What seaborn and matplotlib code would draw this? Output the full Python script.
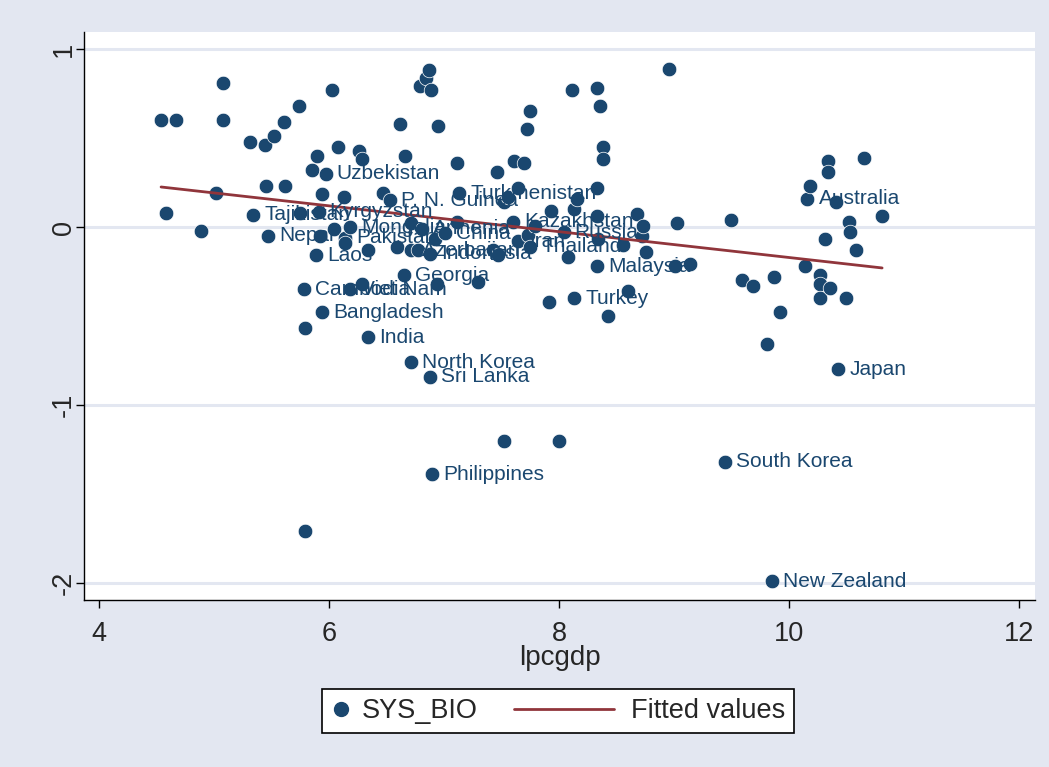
import matplotlib
matplotlib.use('Agg')
import matplotlib.pyplot as plt
from matplotlib.lines import Line2D
from matplotlib.legend_handler import HandlerLine2D
import seaborn as sns
import pandas as pd
import numpy as np

# lpcgdp / SYS_BIO values, country label where one is shown
lpcgdp = [4.54, 4.67, 4.58, 4.89, 5.02, 5.08, 5.08, 5.31, 5.34, 5.44,
          5.45, 5.47, 5.52, 5.61, 5.62, 5.74, 5.75, 5.78, 5.79, 5.79,
          5.85, 5.90, 5.89, 5.91, 5.92, 5.94, 5.94, 5.97, 6.03, 6.04,
          6.08, 6.13, 6.14, 6.14, 6.18, 6.18, 6.26, 6.29, 6.29, 6.34,
          6.34, 6.47, 6.53, 6.59, 6.62, 6.65, 6.66, 6.71, 6.71, 6.71,
          6.77, 6.79, 6.81, 6.84, 6.87, 6.89, 6.88, 6.88, 6.90, 6.92,
          6.94, 6.95, 7.01, 7.11, 7.11, 7.13, 7.30, 7.43, 7.46, 7.47,
          7.52, 7.52, 7.56, 7.60, 7.61, 7.64, 7.64, 7.70, 7.72, 7.73,
          7.75, 7.75, 7.79, 7.91, 7.93, 8.00, 8.04, 8.08, 8.11, 8.13,
          8.13, 8.16, 8.33, 8.33, 8.33, 8.33, 8.34, 8.36, 8.38, 8.38,
          8.43, 8.56, 8.60, 8.68, 8.72, 8.73, 8.76, 8.96, 9.01, 9.03,
          9.14, 9.44, 9.50, 9.59, 9.69, 9.81, 9.85, 9.87, 9.92, 10.14,
          10.16, 10.18, 10.27, 10.27, 10.27, 10.31, 10.34, 10.34, 10.36, 10.41,
          10.43, 10.50, 10.52, 10.53, 10.58, 10.65, 10.81]
sys_bio = [0.60, 0.60, 0.08, -0.02, 0.19, 0.81, 0.60, 0.48, 0.07, 0.46,
           0.23, -0.05, 0.51, 0.59, 0.23, 0.68, 0.08, -0.35, -0.57, -1.71,
           0.32, 0.40, -0.16, 0.085, -0.05, 0.185, -0.48, 0.30, 0.77, -0.01,
           0.45, 0.17, -0.06, -0.09, 0.00, -0.35, 0.43, 0.38, -0.32, -0.13,
           -0.62, 0.19, 0.15, -0.11, 0.58, -0.27, 0.40, 0.02, -0.13, -0.76,
           -0.13, 0.79, -0.01, 0.84, 0.88, 0.77, -0.15, -0.84, -1.39, -0.07,
           -0.32, 0.57, -0.035, 0.03, 0.36, 0.19, -0.31, -0.13, 0.31, -0.16,
           0.14, -1.20, 0.17, 0.03, 0.37, 0.22, -0.08, 0.36, 0.55, -0.045,
           0.65, -0.11, 0.005, -0.42, 0.09, -1.20, -0.03, -0.17, 0.77, -0.40,
           0.10, 0.16, 0.22, 0.78, 0.06, -0.22, -0.07, 0.68, 0.45, 0.38,
           -0.50, -0.10, -0.36, 0.075, -0.05, 0.005, -0.14, 0.89, -0.22, 0.025,
           -0.21, -1.32, 0.04, -0.30, -0.33, -0.66, -1.99, -0.28, -0.48, -0.22,
           0.16, 0.23, -0.27, -0.32, -0.40, -0.07, 0.37, 0.31, -0.34, 0.14,
           -0.80, -0.40, 0.026, -0.03, -0.13, 0.39, 0.06]
country = ['', '', '', '', '', '', '', '', 'Tajikistan', '',
           '', 'Nepal', '', '', '', '', '', 'Cambodia', '', '',
           '', '', 'Laos', 'Kyrgyzstan', '', '', 'Bangladesh', 'Uzbekistan', '', '',
           '', '', 'Pakistan', '', 'Mongolia', 'Viet Nam', '', '', '', '',
           'India', '', 'P. N. Guinea', '', '', 'Georgia', '', '', 'Azerbaijan', 'North Korea',
           '', '', 'Armenia', '', '', '', 'Indonesia', 'Sri Lanka', 'Philippines', '',
           '', '', 'China', '', '', 'Turkmenistan', '', '', '', '',
           '', '', '', 'Kazakhstan', '', '', 'Iran', '', '', '',
           '', 'Thailand', '', '', '', '', 'Russia', '', '', 'Turkey',
           '', '', '', '', '', 'Malaysia', '', '', '', '',
           '', '', '', '', '', '', '', '', '', '',
           '', 'South Korea', '', '', '', '', 'New Zealand', '', '', '',
           'Australia', '', '', '', '', '', '', '', '', '',
           'Japan', '', '', '', '', '', '']

# fitted values at the ends of the line
fit_x = [4.54, 10.81]
fit_y = [0.225, -0.23]

df = pd.DataFrame({'lpcgdp': lpcgdp, 'SYS_BIO': sys_bio, 'country': country})
fit = pd.DataFrame({'lpcgdp': fit_x, 'fitted': fit_y})

navy = '#1A476F'
maroon = '#90353B'
bg = '#E3E7F1'


# legend line drawn longer than the (short) handle box, Stata style
class LongLine(HandlerLine2D):
    def create_artists(self, legend, orig_handle, xdescent, ydescent, width,
                       height, fontsize, trans):
        arts = super().create_artists(legend, orig_handle, xdescent, ydescent,
                                      width, height, fontsize, trans)
        for a in arts:
            n = len(a.get_xdata())
            if n >= 2:
                a.set_xdata(np.linspace(-xdescent - 3.2 * fontsize,
                                        -xdescent + width - 0.26 * fontsize, n))
        return arts


sns.set_style('white')
plt.rcParams['font.family'] = ['Liberation Sans', 'DejaVu Sans']

fig = plt.figure(figsize=(10.49, 7.67), dpi=100, facecolor=bg)
ax = fig.add_axes([0.0801, 0.2177, 0.9066, 0.7406])
ax.set_facecolor('white')

for v in [1, 0, -1, -2]:
    ax.axhline(v, color=bg, lw=2.2, zorder=0)

sns.scatterplot(data=df, x='lpcgdp', y='SYS_BIO', color=navy, s=110,
                edgecolor='white', linewidth=0.5, ax=ax, zorder=3, legend=False)
sns.lineplot(data=fit, x='lpcgdp', y='fitted', color=maroon, lw=2, ax=ax, zorder=4)

for _, r in df[df['country'] != ''].iterrows():
    ax.annotate(r['country'], (r['lpcgdp'], r['SYS_BIO']), xytext=(8, 0),
                textcoords='offset points', va='center', ha='left',
                fontsize=15, color=navy, zorder=5)

ax.set_xlim(3.87, 12.14)
ax.set_ylim(-2.096, 1.096)
ax.set_xticks([4, 6, 8, 10, 12])
ax.set_yticks([-2, -1, 0, 1])
ax.set_yticklabels(['-2', '-1', '0', '1'], rotation=90, va='center')
ax.tick_params(axis='both', direction='out', length=6, width=1, labelsize=19.5,
               left=True, bottom=True, color='black')
ax.tick_params(axis='x', pad=9)
ax.tick_params(axis='y', pad=-1)
for s in ['top', 'right']:
    ax.spines[s].set_visible(False)
for s in ['left', 'bottom']:
    ax.spines[s].set_color('black')
    ax.spines[s].set_linewidth(1)
ax.set_xlabel('lpcgdp', fontsize=20, labelpad=-1)
ax.set_ylabel('')

mk = Line2D([], [], marker='o', ls='', color=navy, markersize=10)
ln = Line2D([], [], color=maroon, lw=2)
leg = fig.legend([mk, ln], ['SYS_BIO', 'Fitted values'], loc='center',
                 bbox_to_anchor=(558 / 1049, 1 - 711 / 767), ncol=2,
                 fontsize=19.5, frameon=True, fancybox=False, edgecolor='black',
                 facecolor='white', framealpha=1,
                 handlelength=0.75, columnspacing=4.55, handletextpad=0.37,
                 borderpad=0.35, handler_map={ln: LongLine()})
leg.get_frame().set_linewidth(1.2)

fig.savefig('out.png', dpi=100, facecolor=bg)
